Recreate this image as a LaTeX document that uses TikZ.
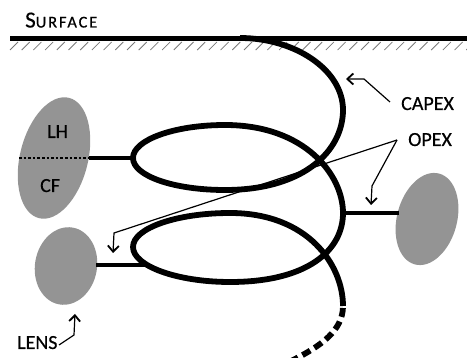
\documentclass[tikz,border=0pt]{standalone}
\usepackage{fontspec}
\setmainfont{Carlito}
\usetikzlibrary{shapes.geometric,arrows.meta}
\definecolor{blobgray}{RGB}{148,148,148}
\definecolor{hatchgray}{RGB}{120,120,120}
\tikzset{
  coil/.style={line width=5.8pt, line cap=butt, black},
  link/.style={line width=4pt, black},
  blob/.style={ellipse, fill=blobgray, draw=none, inner sep=0pt},
  lbl/.style={inner sep=0pt, anchor=base west, font=\fontsize{20}{20}\selectfont\addfontfeature{FakeBold=0.5}},
  ptr/.style={line width=1.2pt, -{Straight Barb[length=6pt,width=11pt,line width=1.8pt]}},
  hatch/.style={line width=0.8pt, hatchgray},
}
\begin{document}
\begin{tikzpicture}[x=1pt,y=-1pt]
\useasboundingbox (0,0) rectangle (467,358);

% ground surface with hatching
\coordinate (gl) at (10,38.5);
\coordinate (gr) at (467,38.5);
\foreach \h in {10,21.7,...,467} {
  \draw[hatch] (\h,50) -- ++(8,-8);
}
\draw[line width=5pt] (gl) -- (gr);
\node[anchor=base west, inner sep=0pt] (surf) at (25,27.5)
  {\addfontfeature{FakeBold=0.5}\fontsize{23}{23}\selectfont S\fontsize{16.5}{17}\selectfont\addfontfeature{LetterSpace=11}URFACE};

% grey bodies
\node[blob, minimum width=68pt, minimum height=124pt, rotate=-14] (lhcf) at (54,158) {};
\node[blob, minimum width=62pt, minimum height=78pt, rotate=-10] (lens) at (66,266) {};
\node[blob, minimum width=60pt, minimum height=94pt, rotate=-15] (right) at (427,219) {};

\node[lbl] (lh) at (47,138) {LH};
\node[lbl] (cf) at (40,192) {CF};
\node[lbl] (lenslbl) at (17,349) {LENS};
\node[lbl] (capex) at (401,110) {CAPEX};
\node[lbl] (opex) at (408,146) {OPEX};

% coil geometry
\coordinate (top) at (240,38);
\coordinate (r1) at (343,110);
\coordinate (b1) at (225,190);
\coordinate (l1) at (133,158);
\coordinate (t1) at (225,125);
\coordinate (r2) at (343,213);
\coordinate (b2) at (230,282);
\coordinate (l2) at (133,247);
\coordinate (t2) at (230,213);
\coordinate (r3) at (343,306);
\coordinate (tail) at (289,362);

% attachment points
\coordinate (divL) at (19,158);
\coordinate (divR) at (89,158);
\coordinate (lensR) at (96,265);
\coordinate (lensjoin) at (146,265);
\coordinate (rightL) at (399,213);

\draw[line width=2.6pt, dash pattern=on 2.6pt off 2pt] (divL) -- (divR);
\draw[link] (divR) -- (l1);
\draw[link] (lensR) -- (lensjoin);
\draw[link] (r2) -- (rightL);

\draw[coil] (top) .. controls (295,38) and (343,70) .. (r1)
  .. controls (343,150) and (305,190) .. (b1)
  .. controls (174,190) and (133,176) .. (l1)
  .. controls (133,140) and (174,125) .. (t1)
  .. controls (305,125) and (343,175) .. (r2)
  .. controls (343,250) and (308,282) .. (b2)
  .. controls (177,282) and (133,266) .. (l2)
  .. controls (133,228) and (177,213) .. (t2)
  .. controls (308,213) and (343,265) .. (r3);
\draw[coil, dash pattern=on 9pt off 5pt, dash phase=-2pt] (r3) .. controls (343,330) and (322,346) .. (tail);

% pointers
\coordinate (capextail) at (390,102);
\coordinate (capexbend) at (364,79);
\coordinate (capextip) at (346,79);
\draw[ptr] (capextail) -- (capexbend) -- (capextip);

\coordinate (opexfork) at (397,140);
\coordinate (opexbendA) at (372,186);
\coordinate (opextipA) at (371,205);
\coordinate (opexbendB) at (114,233);
\coordinate (opextipB) at (113,253);
\draw[ptr] (opexfork) -- (opexbendA) -- (opextipA);
\draw[ptr] (opexfork) -- (opexbendB) -- (opextipB);

\coordinate (lenstail) at (59,345);
\coordinate (lensbend) at (74,335);
\coordinate (lenstip) at (75,314);
\draw[ptr] (lenstail) -- (lensbend) -- (lenstip);
\end{tikzpicture}
\end{document}
